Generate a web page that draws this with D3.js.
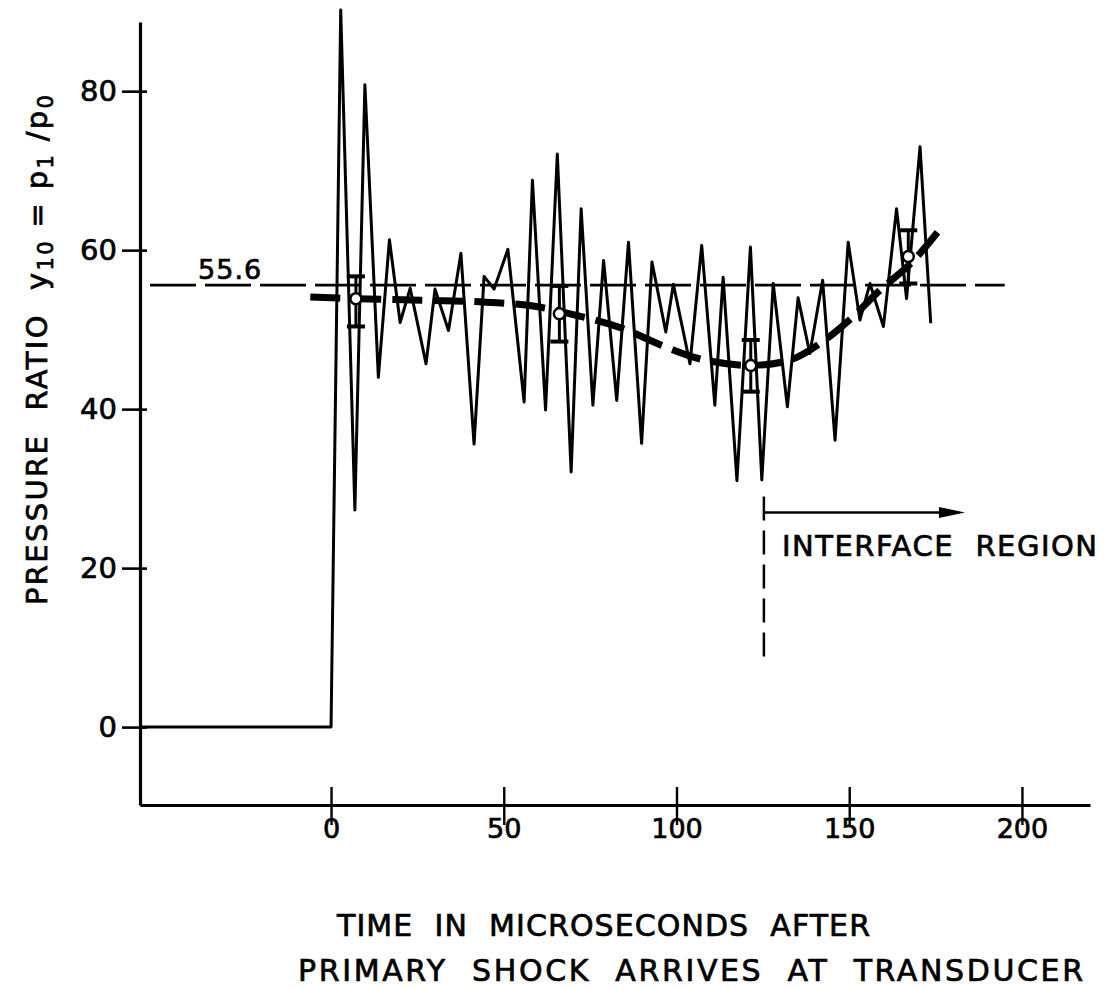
<!DOCTYPE html>
<html>
<head>
<meta charset="utf-8">
<script src="https://cdn.jsdelivr.net/npm/d3@7"></script>
<style>
  body { margin: 0; background: #fff; }
  svg { display: block; }
  text { font-family: "DejaVu Sans", sans-serif; fill: #000; stroke: #000; stroke-width: 0.7px; white-space: pre; }
</style>
</head>
<body>
<svg id="chart" width="1104" height="989"></svg>
<script>
// pressure trace (time in microseconds, pressure ratio)
const traceTime = [-55.3, 0, 2.8, 6.9, 9.8, 13.7, 16.9, 20.0, 22.9, 27.5, 30.1, 34.0, 37.6, 41.4, 44.3, 47.2,
  51.2, 55.9, 58.3, 62.1, 65.5, 69.5, 72.4, 75.8, 78.9, 82.7, 86.1, 89.9, 92.9, 96.9, 99.1, 103.9,
  107.3, 111.1, 113.5, 117.5, 121.4, 124.7, 128.0, 132.1, 135.2, 138.6, 142.3, 145.9, 149.7, 153.1,
  156.0, 159.9, 163.7, 166.6, 170.5, 173.6];
const traceRatio = [0, 0, 90.2, 27.3, 80.8, 44.0, 61.3, 50.9, 55.2, 45.7, 55.1, 49.9, 59.6, 35.6, 56.7, 55.1,
  60.1, 40.9, 68.8, 39.9, 72.1, 32.1, 65.2, 40.5, 58.7, 41.1, 61.0, 35.7, 58.5, 49.7, 55.7, 45.7,
  60.6, 40.5, 56.6, 31.0, 60.4, 31.1, 55.8, 40.3, 54.0, 47.0, 56.2, 36.1, 61.0, 51.2,
  55.8, 50.4, 65.2, 53.9, 73.0, 50.8];

// faired mean curve (thick dashed)
const meanTime = [-6, 7, 26, 43, 58, 71, 84, 97, 107, 121, 133, 142, 150, 159, 168, 176];
const meanRatio = [54.1, 53.9, 53.7, 53.5, 53.0, 51.8, 50.2, 47.8, 46.3, 45.5, 46.2, 48.4, 51.2, 55.0, 58.4, 62.5];

// averaged points with error bars
const avgTime = [7.2, 66.1, 121.5, 167.1];
const avgRatio = [53.9, 52.0, 45.5, 59.2];
const avgHigh = [56.7, 55.5, 48.7, 62.5];
const avgLow = [50.4, 48.5, 42.2, 55.8];

const theoryRatio = 55.6;
const xTicks = [0, 50, 100, 150, 200];
const yTicks = [0, 20, 40, 60, 80];
const interfaceTime = 125.3;

const svg = d3.select("#chart");

const x = d3.scaleLinear().domain([-55.3, 219.7]).range([140, 1090]);
const y = d3.scaleLinear().domain([-9.8, 88.7]).range([805, 22]);

// axes, ticks crossing the axis line
const xAxisG = svg.append("g")
  .attr("transform", "translate(0,805)")
  .call(d3.axisBottom(x).tickValues(xTicks).tickSize(20).tickSizeOuter(0).tickFormat(d3.format("d")));
xAxisG.select(".domain").attr("stroke-width", 3.2);
xAxisG.selectAll(".tick line").attr("y1", -18).attr("stroke-width", 2.4);
xAxisG.selectAll(".tick text")
  .attr("y", 14)
  .style("font-family", "DejaVu Sans")
  .style("font-size", "27px");

const yAxisG = svg.append("g")
  .attr("transform", "translate(140,0)")
  .call(d3.axisLeft(y).tickValues(yTicks).tickSize(18).tickSizeOuter(0).tickPadding(5));
yAxisG.select(".domain").attr("stroke-width", 3.2);
yAxisG.selectAll(".tick line").attr("x1", 7).attr("stroke-width", 2.6);
yAxisG.selectAll(".tick text")
  .style("font-family", "DejaVu Sans")
  .style("font-size", "29px");

// 55.6 reference line
svg.append("line")
  .attr("x1", x(-52.4)).attr("x2", x(195))
  .attr("y1", y(theoryRatio)).attr("y2", y(theoryRatio))
  .attr("stroke", "#000").attr("stroke-width", 2.6)
  .attr("stroke-dasharray", "46,9");
svg.append("text")
  .attr("x", x(-38.5)).attr("y", y(theoryRatio) - 6)
  .style("font-size", "27px")
  .style("letter-spacing", "1px")
  .text("55.6");

// trace
const trace = traceTime.map((t, i) => ({ t: t, v: traceRatio[i] }));
svg.append("path")
  .datum(trace)
  .attr("fill", "none").attr("stroke", "#000")
  .attr("stroke-width", 3).attr("stroke-linejoin", "round")
  .attr("d", d3.line().x(d => x(d.t)).y(d => y(d.v)));

// mean curve
const mean = meanTime.map((t, i) => ({ t: t, v: meanRatio[i] }));
svg.append("path")
  .datum(mean)
  .attr("fill", "none").attr("stroke", "#000")
  .attr("stroke-width", 7).attr("stroke-dasharray", "30,11")
  .attr("d", d3.line().curve(d3.curveCatmullRom).x(d => x(d.t)).y(d => y(d.v)));

// error bars + open circles
const avg = avgTime.map((t, i) => ({ t: t, v: avgRatio[i], hi: avgHigh[i], lo: avgLow[i] }));
const bars = svg.append("g").selectAll("g").data(avg).enter().append("g");
bars.append("line")
  .attr("x1", d => x(d.t)).attr("x2", d => x(d.t))
  .attr("y1", d => y(d.hi)).attr("y2", d => y(d.lo))
  .attr("stroke", "#000").attr("stroke-width", 3);
bars.selectAll(".cap").data(d => [[d.t, d.hi], [d.t, d.lo]]).enter().append("line")
  .attr("x1", d => x(d[0]) - 9).attr("x2", d => x(d[0]) + 9)
  .attr("y1", d => y(d[1])).attr("y2", d => y(d[1]))
  .attr("stroke", "#000").attr("stroke-width", 4);
bars.append("circle")
  .attr("cx", d => x(d.t)).attr("cy", d => y(d.v)).attr("r", 5.5)
  .attr("fill", "#fff").attr("stroke", "#000").attr("stroke-width", 2.5);

// interface region marker
svg.append("line")
  .attr("x1", x(interfaceTime)).attr("x2", x(interfaceTime))
  .attr("y1", y(29)).attr("y2", y(8.4))
  .attr("stroke", "#000").attr("stroke-width", 2.5)
  .attr("stroke-dasharray", "24,10");
const arrowY = y(27);
const tipX = x(183.5);
svg.append("line")
  .attr("x1", x(interfaceTime)).attr("x2", tipX - 20)
  .attr("y1", arrowY).attr("y2", arrowY)
  .attr("stroke", "#000").attr("stroke-width", 2.5);
svg.append("path")
  .attr("d", `M${tipX},${arrowY} L${tipX - 26},${arrowY - 5.5} L${tipX - 26},${arrowY + 5.5} Z`)
  .attr("fill", "#000");
svg.append("text")
  .attr("x", 782).attr("y", 556)
  .attr("textLength", 315).attr("lengthAdjust", "spacing")
  .style("font-size", "29px")
  .text("INTERFACE  REGION");

// axis titles
svg.append("text")
  .attr("x", 337).attr("y", 936)
  .attr("textLength", 533).attr("lengthAdjust", "spacing")
  .style("font-size", "30px")
  .text("TIME  IN  MICROSECONDS  AFTER");
svg.append("text")
  .attr("x", 298).attr("y", 981)
  .attr("textLength", 785).attr("lengthAdjust", "spacing")
  .style("font-size", "30px")
  .text("PRIMARY  SHOCK  ARRIVES  AT  TRANSDUCER");

const yTitle = svg.append("text")
  .attr("transform", "translate(47,605) rotate(-90)")
  .attr("textLength", 510).attr("lengthAdjust", "spacing")
  .style("font-size", "29px");
yTitle.append("tspan").text("PRESSURE  RATIO  y");
yTitle.append("tspan").attr("dy", 6).style("font-size", "21px").text("10");
yTitle.append("tspan").attr("dy", -6).text(" = p");
yTitle.append("tspan").attr("dy", 6).style("font-size", "21px").text("1");
yTitle.append("tspan").attr("dy", -6).text(" /p");
yTitle.append("tspan").attr("dy", 6).style("font-size", "21px").text("0");
</script>
</body>
</html>
